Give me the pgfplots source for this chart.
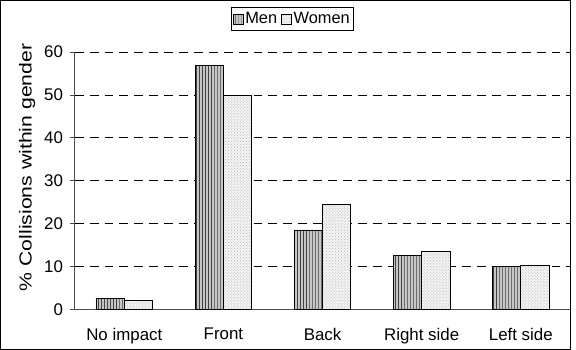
\documentclass[border=0pt]{standalone}
\usepackage{fontspec}
\setmainfont{Liberation Sans}
\usepackage{pgfplots}
\pgfplotsset{compat=1.18}
\usetikzlibrary{patterns}
\begin{document}
\fontsize{17bp}{20bp}\selectfont
\begin{tikzpicture}
\begin{axis}[
  scale only axis,
  width=499bp, height=259bp,
  ymin=0, ymax=60,
  xmin=-0.5, xmax=4.5,
  axis x line*=bottom, axis y line*=left,
  axis line style={-, black!70, line width=0.8bp},
  ytick={0,10,20,30,40,50,60},
  ymajorgrids, grid style={black, dash pattern=on 9bp off 6bp, line width=0.7bp},
  xtick={0,1,2,3,4},
  xticklabels={No impact, Front, Back, Right side, Left side},
  x tick style={draw=none},
  extra x ticks={-0.5,0.5,1.5,2.5,3.5,4.5},
  extra x tick labels={},
  extra x tick style={tick style={draw=black!70, line width=0.8bp}, major tick length=5bp, tick align=outside, grid=none},
  y tick style={black!70, line width=0.8bp},
  tick align=outside, major tick length=5bp,
  ticklabel style={font=\fontsize{17bp}{20bp}\selectfont},
  xticklabel style={yshift=-8bp},
  yticklabel style={xshift=-1bp},
  /pgf/number format/assume math mode=true,
  ylabel={\scalebox{1.22}[1]{\% Collisions within gender}},
  ylabel style={at={(rel axis cs:-0.096,0.552)}, anchor=center, font=\fontsize{17.5bp}{20bp}\selectfont},
  ybar=0pt, bar width=28.5bp,
  legend style={at={(rel axis cs:0.439,1.174)}, anchor=north, legend columns=2,
    draw=black, line width=0.8bp, inner xsep=1.5bp, inner ysep=2.5bp, font=\fontsize{16.5bp}{19bp}\selectfont,
    /tikz/every even column/.append style={column sep=2bp},
    nodes={inner xsep=2bp}},
  legend image code/.code={\draw[#1, line width=0.5bp] (0bp,-5bp) rectangle (10bp,5bp);},
  clip=false,
]
\addplot[draw=black, line width=0.8bp, fill=gray!45, postaction={pattern=vertical lines, pattern color=black!75}]
  coordinates {(0,2.6) (1,56.8) (2,18.5) (3,12.5) (4,10.0)};
\addplot[draw=black, line width=0.8bp, fill=gray!8, postaction={pattern=crosshatch dots, pattern color=gray!60}]
  coordinates {(0,2.1) (1,50.0) (2,24.5) (3,13.4) (4,10.15)};
\legend{Men, Women}
\draw[black, line width=0.8bp] (rel axis cs:-0.150,-0.1544) rectangle (rel axis cs:1.0,1.2008);
\end{axis}
\end{tikzpicture}
\end{document}
